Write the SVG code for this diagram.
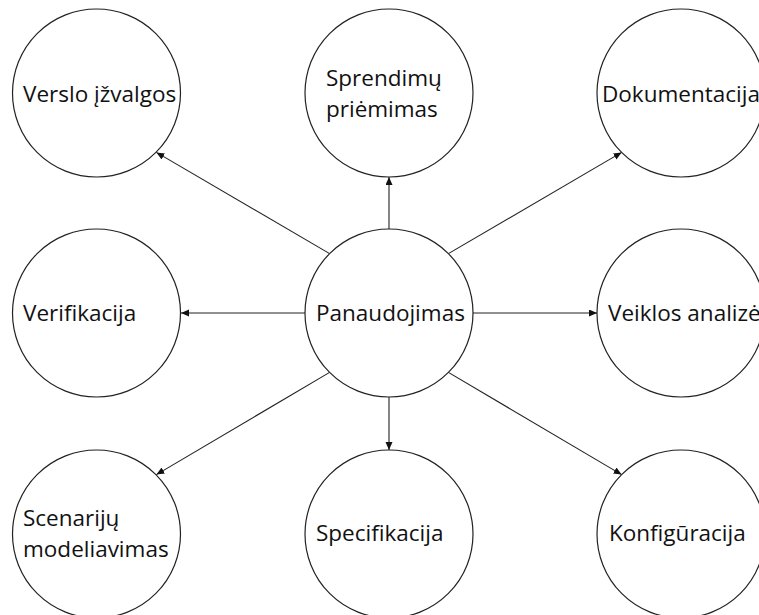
<svg xmlns="http://www.w3.org/2000/svg" width="759" height="615" viewBox="0 0 759 615">
  <defs>
    <marker id="arrow" markerUnits="userSpaceOnUse" markerWidth="9" markerHeight="8" refX="8" refY="3.5" orient="auto">
      <path d="M0,0 L8,3.5 L0,7 z" fill="#111"/>
    </marker>
    <style>
      .node circle { fill: #fff; stroke: #222; stroke-width: 1.2; }
      .node text { font-family: "Open Sans", "Noto Sans", sans-serif; font-size: 22.5px; fill: #111; }
      .edges path { stroke: #222; stroke-width: 1.1; fill: none; marker-end: url(#arrow); }
    </style>
  </defs>
  <rect width="759" height="615" fill="#fff"/>

  <g class="edges">
    <path d="M389,229 L389,177"/>
    <path d="M329.6,253.6 L156.4,152.4"/>
    <path d="M448.4,253.6 L621.6,152.4"/>
    <path d="M305,313 L181,313"/>
    <path d="M473,313 L597,313"/>
    <path d="M329.6,372.4 L156.4,474.6"/>
    <path d="M389,397 L389,450"/>
    <path d="M448.4,372.4 L621.6,474.6"/>
  </g>

  <g id="verslo-izvalgos" class="node">
    <circle cx="96.5" cy="93" r="84"/>
    <text x="23" y="101.5">Verslo įžvalgos</text>
  </g>
  <g id="sprendimu-priemimas" class="node">
    <circle cx="389" cy="93" r="84"/>
    <text x="326" y="86">Sprendimų</text>
    <text x="326" y="117">priėmimas</text>
  </g>
  <g id="dokumentacija" class="node">
    <circle cx="681" cy="93" r="84"/>
    <text x="602" y="101.5">Dokumentacija</text>
  </g>
  <g id="verifikacija" class="node">
    <circle cx="96.5" cy="313" r="84"/>
    <text x="23" y="320.5">Verifikacija</text>
  </g>
  <g id="panaudojimas" class="node">
    <circle cx="389" cy="313" r="84"/>
    <text x="316" y="321">Panaudojimas</text>
  </g>
  <g id="veiklos-analize" class="node">
    <circle cx="681" cy="313" r="84"/>
    <text x="608" y="320.5">Veiklos analizė</text>
  </g>
  <g id="scenariju-modeliavimas" class="node">
    <circle cx="96.5" cy="534" r="84"/>
    <text x="23" y="526">Scenarijų</text>
    <text x="23" y="557">modeliavimas</text>
  </g>
  <g id="specifikacija" class="node">
    <circle cx="389" cy="534" r="84"/>
    <text x="316" y="541">Specifikacija</text>
  </g>
  <g id="konfiguracija" class="node">
    <circle cx="681" cy="534" r="84"/>
    <text x="609" y="541">Konfigūracija</text>
  </g>
</svg>
